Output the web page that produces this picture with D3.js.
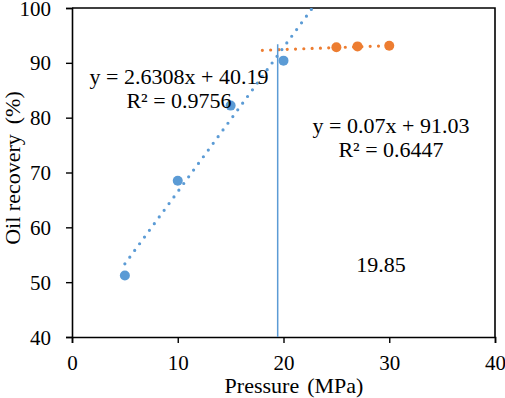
<!DOCTYPE html>
<html>
<head>
<meta charset="utf-8">
<script src="https://cdn.jsdelivr.net/npm/d3@7"></script>
<style>
  body { margin: 0; background: #fff; }
  text { font-family: "Times New Roman", "Liberation Serif", serif; fill: #000; }
</style>
</head>
<body>
<svg id="chart" width="505" height="398"></svg>
<script>
// Data
const lowPressure = [5, 10, 15, 20];
const lowRecovery = [51.2, 68.5, 82.2, 90.4];
const highPressure = [25, 27, 30];
const highRecovery = [92.85, 93.0, 93.1];

// trendlines: slope, intercept, x from, x to
const lowFit = [2.6308, 40.19, 5, 25];
const highFit = [0.07, 91.03, 18, 30];

// vertical marker line: x, y bottom, y top
const markerLine = [19.45, 40, 93.4];

const xTicks = [0, 10, 20, 30, 40];
const yTicks = [40, 50, 60, 70, 80, 90, 100];

const lowLabels = ["y = 2.6308x + 40.19", "R² = 0.9756"];
const highLabels = ["y = 0.07x + 91.03", "R² = 0.6447"];
const crossLabel = "19.85";

const blue = "#5B9BD5";
const orange = "#ED7D31";
const serif = "'Times New Roman', 'Liberation Serif', serif";

const svg = d3.select("#chart");
const width = +svg.attr("width");
const height = +svg.attr("height");
const margin = { top: 8, right: 10, bottom: 61, left: 72 };

const x = d3.scaleLinear().domain([0, 40]).range([margin.left, width - margin.right]);
const y = d3.scaleLinear().domain([40, 100]).range([height - margin.bottom, margin.top]);

// clip for trendlines
svg.append("defs").append("clipPath")
    .attr("id", "plot-clip")
    .append("rect")
    .attr("x", margin.left)
    .attr("y", margin.top)
    .attr("width", x(40) - x(0))
    .attr("height", y(40) - y(100));

// box top + right
svg.append("path")
    .attr("d", `M${x(0)},${y(100)}H${x(40)}V${y(40)}`)
    .attr("fill", "none")
    .attr("stroke", "#000")
    .attr("stroke-width", 1.6);

// axes
const xAxis = svg.append("g")
    .attr("transform", `translate(0,${y(40)})`)
    .call(d3.axisBottom(x).tickValues(xTicks).tickSize(6).tickPadding(12));
const yAxis = svg.append("g")
    .attr("transform", `translate(${x(0)},0)`)
    .call(d3.axisLeft(y).tickValues(yTicks).tickSize(6).tickPadding(15));

[xAxis, yAxis].forEach(g => {
    g.attr("font-family", serif).attr("font-size", 21);
    g.select(".domain").attr("stroke", "#000").attr("stroke-width", 1.6);
    g.selectAll(".tick line").attr("stroke", "#000").attr("stroke-width", 1.4);
    g.selectAll(".tick text").attr("fill", "#000");
});
yAxis.selectAll(".tick text").attr("dy", "0.34em");

// axis titles
const xTitle = svg.append("text")
    .attr("x", 294)
    .attr("y", 393)
    .attr("text-anchor", "middle")
    .style("font-size", "22px");
xTitle.append("tspan").text("Pressure");
xTitle.append("tspan").attr("dx", 8).text("(MPa)");

const yTitle = svg.append("text")
    .attr("transform", "translate(20,168) rotate(-90)")
    .attr("text-anchor", "middle")
    .style("font-size", "22px");
yTitle.append("tspan").text("Oil recovery");
yTitle.append("tspan").attr("dx", 10).text("(%)");

// trendlines
const plot = svg.append("g").attr("clip-path", "url(#plot-clip)");
const line = d3.line().x(d => x(d[0])).y(d => y(d[1]));

[[lowFit, blue], [highFit, orange]].forEach(([fit, color]) => {
    const pts = [fit[2], fit[3]].map(v => [v, fit[0] * v + fit[1]]);
    plot.append("path")
        .attr("d", line(pts))
        .attr("fill", "none")
        .attr("stroke", color)
        .attr("stroke-width", 3.2)
        .attr("stroke-linecap", "round")
        .attr("stroke-dasharray", "0 8.3");
});

// vertical marker
svg.append("line")
    .attr("x1", x(markerLine[0]))
    .attr("x2", x(markerLine[0]))
    .attr("y1", y(markerLine[1]))
    .attr("y2", y(markerLine[2]))
    .attr("stroke", blue)
    .attr("stroke-width", 1.5);

// points
svg.append("g").selectAll("circle")
    .data(d3.zip(lowPressure, lowRecovery))
    .join("circle")
    .attr("cx", d => x(d[0]))
    .attr("cy", d => y(d[1]))
    .attr("r", 5)
    .attr("fill", blue);

svg.append("g").selectAll("circle")
    .data(d3.zip(highPressure, highRecovery))
    .join("circle")
    .attr("cx", d => x(d[0]))
    .attr("cy", d => y(d[1]))
    .attr("r", 5)
    .attr("fill", orange);

// equation labels
function addLabels(lines, cx, baseline) {
    svg.append("g").selectAll("text")
        .data(lines)
        .join("text")
        .attr("x", cx)
        .attr("y", (d, i) => baseline + i * 24)
        .attr("text-anchor", "middle")
        .style("font-size", "22px")
        .text(d => d);
}
addLabels(lowLabels, 179, 84);
addLabels(highLabels, 391, 133);

svg.append("text")
    .attr("x", 381)
    .attr("y", 272)
    .attr("text-anchor", "middle")
    .style("font-size", "22px")
    .text(crossLabel);
</script>
</body>
</html>
